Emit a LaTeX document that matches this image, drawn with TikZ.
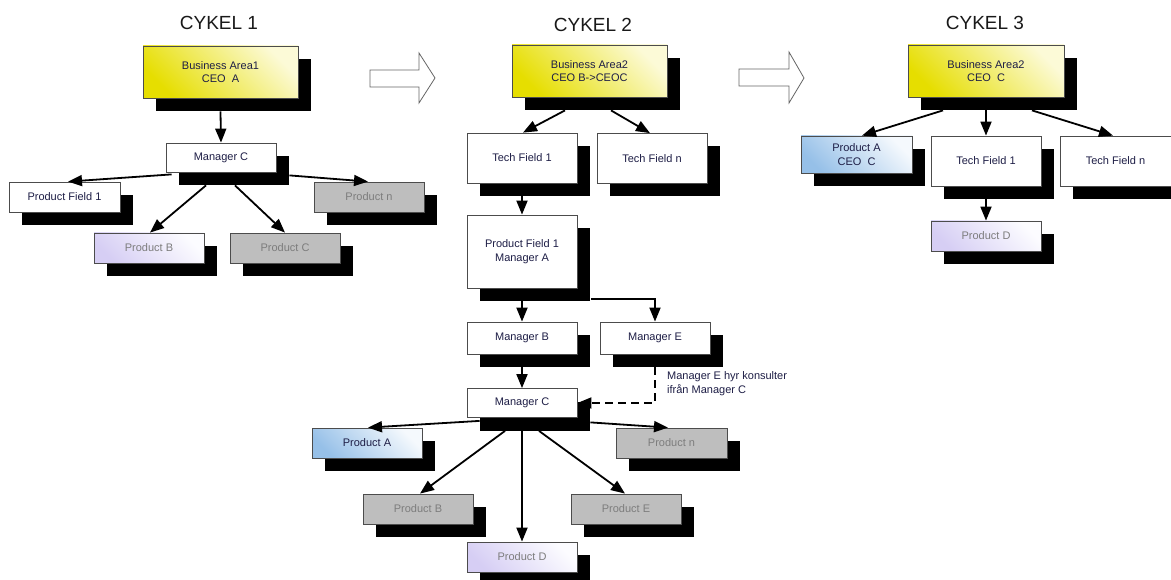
\documentclass[tikz,border=0pt]{standalone}
\usepackage{fontspec}
\setmainfont{Liberation Sans}
\usetikzlibrary{arrows.meta,shadows}

\definecolor{navy}{RGB}{30,30,70}
\definecolor{boxgray}{RGB}{190,190,190}
\definecolor{graytext}{RGB}{125,125,125}
\definecolor{yelA}{RGB}{230,222,0}
\definecolor{yelB}{RGB}{252,250,215}
\definecolor{bluA}{RGB}{150,192,232}
\definecolor{bluB}{RGB}{245,249,253}
\definecolor{lavA}{RGB}{214,206,244}
\definecolor{lavB}{RGB}{252,252,255}

\tikzset{
  box/.style={draw=black!70, line width=0.8pt, minimum width=110pt, minimum height=30pt,
    inner sep=2pt, align=center, text=navy,
    font=\fontsize{11}{13.5}\selectfont,
    drop shadow={shadow xshift=13pt, shadow yshift=-13pt, fill=black, opacity=1}},
  whitebox/.style={box, fill=white},
  graybox/.style={box, fill=boxgray, text=graytext},
  % diagonal fade: solid colour towards the lower left, pale towards the upper right
  fadefill/.style 2 args={top color=#2, middle color=#1, bottom color=#1, shading angle=-45},
  yellowbox/.style={box, minimum width=155pt, minimum height=52pt, fadefill={yelA}{yelB}},
  bluebox/.style={box, fadefill={bluA}{bluB}},
  lavbox/.style={box, fadefill={lavA}{lavB}, text=graytext},
  conn/.style={line width=1.8pt, -{Triangle[length=14pt,width=11pt]}},
  dashconn/.style={conn, dashed, dash pattern=on 8pt off 5pt},
  cycletitle/.style={font=\fontsize{19}{22}\selectfont, text=black!90},
  note/.style={font=\fontsize{11}{14}\selectfont, text=navy, align=left, inner sep=0pt, anchor=west},
  bigarrow/.style={draw=black!60, line width=0.8pt, fill=white}
}

\begin{document}
\begin{tikzpicture}[x=1pt, y=-1pt]
\fill[white] (0,0) rectangle (1171,580);
\useasboundingbox (0,0) rectangle (1171,580);

% ---------- titles ----------
\node[cycletitle] (t1) at (219,23) {CYKEL 1};
\node[cycletitle] (t2) at (593,25) {CYKEL 2};
\node[cycletitle] (t3) at (985,23) {CYKEL 3};

% ---------- transition arrows ----------
\draw[bigarrow] (370,70) -- (419,70) -- (419,53) -- (435,78) -- (419,103) -- (419,87) -- (370,87) -- cycle;
\draw[bigarrow] (739,69) -- (789,69) -- (789,52) -- (804,78) -- (789,103) -- (789,86) -- (739,86) -- cycle;

% ---------- cycle 1 ----------
\node[yellowbox] (ba1) at (220.5,72) {Business Area1\\CEO\ \ A};
\node[whitebox, minimum height=29pt] (mc1) at (221,157.5) {Manager C};
\node[whitebox, minimum width=111pt] (pf1) at (64.5,197) {Product Field 1};
\node[graybox] (pn1) at (369,197) {Product n};
\node[lavbox] (pb1) at (149,248) {Product B};
\node[graybox] (pc1) at (285,248) {Product C};

\draw[conn] ([yshift=-13pt]ba1.south) -- (mc1.north);
\draw[conn] ([xshift=6pt,yshift=-2pt]mc1.south west) -- ([xshift=3.5pt]pf1.north);
\draw[conn] ([xshift=13pt,yshift=-3pt]mc1.south east) -- ([xshift=-1pt]pn1.north);
\draw[conn] ([xshift=-15pt,yshift=-13pt]mc1.south) -- ([xshift=1pt]pb1.north);
\draw[conn] ([xshift=14pt,yshift=-13pt]mc1.south) -- (pc1.north);

% ---------- cycle 2 ----------
\node[yellowbox] (ba2) at (589.5,71) {Business Area2\\CEO B->CEOC};
\node[whitebox, minimum height=50pt] (tf1) at (522,158) {Tech Field 1};
\node[whitebox, minimum height=50pt] (tfn) at (652,158.5) {Tech Field n};
\node[whitebox, minimum height=73pt] (pfa) at (522,251.5) {Product Field 1\\Manager A};
\node[whitebox, minimum height=32pt] (mb) at (522,338) {Manager B};
\node[whitebox, minimum height=32pt] (me) at (655,338) {Manager E};
\node[whitebox, minimum height=29pt] (mc2) at (522,403) {Manager C};
\node[bluebox] (pa2) at (367,443) {Product A};
\node[graybox, minimum width=111pt] (pn2) at (671.5,443) {Product n};
\node[graybox] (pb2) at (418,509) {Product B};
\node[graybox] (pe2) at (626,509) {Product E};
\node[lavbox] (pd2) at (522,557) {Product D};
\node[note] (note) at (667,384) {Manager E hyr konsulter\\ifrån Manager C};

\draw[conn] ([xshift=-24.5pt,yshift=-13pt]ba2.south) -- ([xshift=1pt]tf1.north);
\draw[conn] ([xshift=21.5pt,yshift=-13pt]ba2.south) -- ([xshift=-2pt]tfn.north);
\draw[conn] ([yshift=-13pt]tf1.south) -- (pfa.north);
\draw[conn] ([yshift=-13pt]pfa.south) -- (mb.north);
\draw[conn] ([xshift=14pt,yshift=-11pt]pfa.south east) -| (me.north);
\draw[conn] ([yshift=-13pt]mb.south) -- (mc2.north);
\draw[dashconn] ([yshift=-13pt]me.south) |- (mc2.east);
\draw[conn] ([xshift=13pt,yshift=-3pt]mc2.south west) -- ([xshift=1pt]pa2.north);
\draw[conn] ([xshift=13pt,yshift=-4.5pt]mc2.south east) -- ([xshift=-3.5pt]pn2.north);
\draw[conn] ([xshift=-17pt,yshift=-13pt]mc2.south) -- ([xshift=2pt]pb2.north);
\draw[conn] ([xshift=17pt,yshift=-13pt]mc2.south) -- ([xshift=-1pt]pe2.north);
\draw[conn] ([yshift=-13pt]mc2.south) -- (pd2.north);

% ---------- cycle 3 ----------
\node[yellowbox, minimum width=156pt] (ba3) at (986,71) {Business Area2\\CEO\ \ C};
\node[bluebox, minimum width=111pt, minimum height=37pt] (pa3) at (856.5,154.5) {Product A\\CEO\ \ C};
\node[whitebox, minimum height=50pt] (tf13) at (986,161) {Tech Field 1};
\node[whitebox, minimum width=111pt, minimum height=50pt] (tfn3) at (1115.5,161) {Tech Field n};
\node[lavbox] (pd3) at (986,236) {Product D};

\draw[conn] ([xshift=-43pt,yshift=-13pt]ba3.south) -- ([xshift=5.5pt]pa3.north);
\draw[conn] ([yshift=-13pt]ba3.south) -- (tf13.north);
\draw[conn] ([xshift=46pt,yshift=-13pt]ba3.south) -- ([xshift=-2.5pt]tfn3.north);
\draw[conn] ([yshift=-13pt]tf13.south) -- (pd3.north);
\end{tikzpicture}
\end{document}
